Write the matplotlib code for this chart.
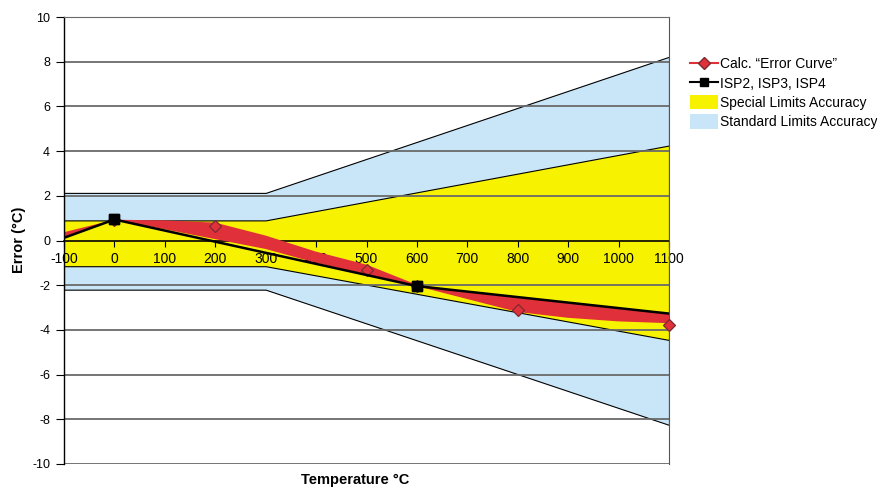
import matplotlib
matplotlib.use("Agg")
import matplotlib.pyplot as plt
from matplotlib.lines import Line2D
from matplotlib.patches import Patch

plt.rcParams['font.family'] = ['Liberation Sans', 'DejaVu Sans']

# Limits (°C) at temperatures
band_T = [-100, 300, 1100]
std_upper = [2.13, 2.13, 8.22]
std_lower = [-2.2, -2.2, -8.25]
spec_upper = [0.9, 0.9, 4.25]
spec_lower = [-1.15, -1.15, -4.45]

# ISP2, ISP3, ISP4 line
isp_T = [-100, 0, 600, 1100]
isp_err = [0.12, 0.94, -2.04, -3.27]

# Calculated error curve band
red_T = [-100, 0, 100, 200, 300, 400, 500, 600, 700, 800, 900, 1000, 1100]
red_top = [0.37, 0.93, 0.9, 0.8, 0.22, -0.5, -1.08, -1.98, -2.3, -2.52, -2.78, -3.02, -3.27]
red_bot = [0.12, 0.93, 0.5, 0.06, -0.38, -1.0, -1.52, -2.04, -2.62, -3.2, -3.46, -3.62, -3.7]

# Error curve markers
err_T = [0, 200, 500, 600, 800, 1100]
err_val = [0.93, 0.66, -1.34, -2.04, -3.13, -3.76]

xticks = [-100, 0, 100, 200, 300, 400, 500, 600, 700, 800, 900, 1000, 1100]
yticks = [-10, -8, -6, -4, -2, 0, 2, 4, 6, 8, 10]

BLUE = '#C9E6F8'
YELLOW = '#F6F200'
RED = '#E0303A'

fig = plt.figure(figsize=(8.77, 4.87), dpi=100)
ax = fig.add_axes([64/877, 1 - 464/487, (669 - 64)/877, (464 - 17)/487])

ax.fill_between(band_T, std_lower, std_upper, facecolor=BLUE, edgecolor='black', lw=0.8, zorder=1)
ax.fill_between(band_T, spec_lower, spec_upper, facecolor=YELLOW, edgecolor='black', lw=0.8, zorder=1.1)

for y in yticks:
    if y != 0:
        ax.axhline(y, color='#6a6a6a', lw=1.3, zorder=1.5)

ax.fill_between(red_T, red_bot, red_top, facecolor=RED, edgecolor='none', zorder=2)

ax.plot(isp_T, isp_err, color='black', lw=1.8, marker='s', markersize=7,
        markevery=[1, 2], zorder=4)
ax.plot(err_T, err_val, linestyle='none', marker='D', markersize=6,
        markerfacecolor=RED, markeredgecolor='#7a2a30', markeredgewidth=0.9,
        zorder=3.5, clip_on=False)
# re-draw squares on top of diamonds
ax.plot([isp_T[1], isp_T[2]], [isp_err[1], isp_err[2]], linestyle='none', marker='s',
        markersize=7, color='black', zorder=5)

ax.set_xlim(-100, 1100)
ax.set_ylim(-10, 10)
ax.set_xticks(xticks)
ax.set_yticks(yticks)
ax.set_xticklabels([str(t) for t in xticks], fontsize=9)
ax.set_yticklabels([str(t) for t in yticks], fontsize=9)

ax.spines['bottom'].set_position(('data', 0))
ax.spines['bottom'].set_zorder(1.8)
ax.spines['bottom'].set_linewidth(1.2)
ax.spines['top'].set_color('#6a6a6a')
ax.spines['right'].set_color('#555555')
ax.spines['left'].set_linewidth(1.0)
ax.tick_params(axis='x', direction='out', length=4, pad=4, width=0.8)
ax.tick_params(axis='y', direction='out', length=6, pad=4, width=0.8)

fig.text(0.022, 0.507, 'Error (°C)', rotation=90, ha='center', va='center',
         fontsize=10.5, fontweight='bold')
fig.text(0.405, 0.001, 'Temperature °C', ha='center', va='bottom',
         fontsize=10.5, fontweight='bold')

handles = [
    Line2D([0], [0], color=RED, lw=1.5, marker='D', markersize=6,
           markerfacecolor=RED, markeredgecolor='#7a2a30'),
    Line2D([0], [0], color='black', lw=1.5, marker='s', markersize=6),
    Patch(facecolor=YELLOW, edgecolor='none'),
    Patch(facecolor=BLUE, edgecolor='none'),
]
labels = ['Calc. \u201cError Curve\u201d', 'ISP2, ISP3, ISP4',
          'Special Limits Accuracy', 'Standard Limits Accuracy']
fig.legend(handles, labels, loc='upper left', bbox_to_anchor=(0.781, 0.895),
           frameon=False, fontsize=10, handlelength=2.0, handleheight=1.2,
           handletextpad=0.15, labelspacing=0.32, borderaxespad=0)

fig.savefig('out.png', dpi=100)
